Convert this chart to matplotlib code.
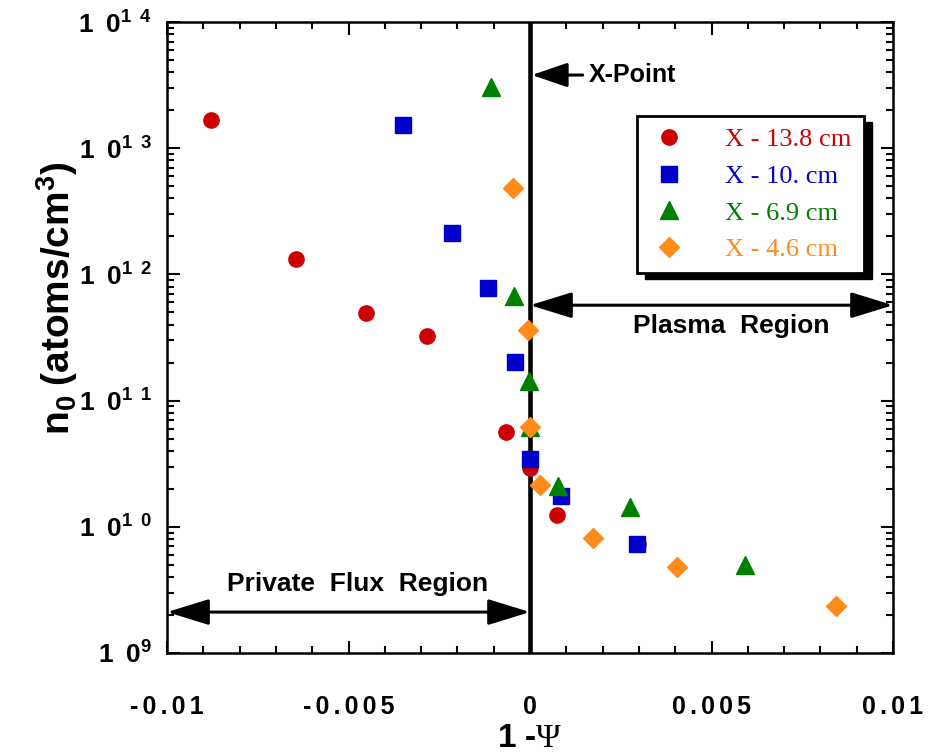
import numpy as np
import matplotlib
matplotlib.use("Agg")
import matplotlib.pyplot as plt
from matplotlib.ticker import FixedLocator, LogLocator, NullFormatter
from matplotlib.patches import Rectangle

plt.rcParams["font.family"] = ["Liberation Sans", "DejaVu Sans"]
plt.rcParams["mathtext.fontset"] = "custom"
plt.rcParams["mathtext.bf"] = "Liberation Sans:bold"
plt.rcParams["mathtext.rm"] = "Liberation Serif"
plt.rcParams["mathtext.it"] = "Liberation Serif:italic"

# data: (1 - Psi, n0)
x_138 = [-0.00879, -0.00645, -0.00452, -0.00284, -0.00066, 0.0, 0.00074, 0.00298]
n_138 = [1.67e13, 1.32e12, 4.9e11, 3.25e11, 5.6e10, 2.9e10, 1.24e10, 7.3e9]

x_100 = [-0.0035, -0.00215, -0.00116, -0.00041, 0.0, 0.00085, 0.00295]
n_100 = [1.53e13, 2.13e12, 7.8e11, 2.02e11, 3.44e10, 1.75e10, 7.3e9]

x_69 = [-0.00107, -0.00044, -0.00002, 0.0, 0.00077, 0.00275, 0.00592]
n_69 = [3.05e13, 6.7e11, 1.43e11, 6.2e10, 2.1e10, 1.44e10, 4.98e9]

x_46 = [-0.00047, -0.00006, 0.0, 0.00028, 0.00174, 0.00405, 0.00843]
n_46 = [4.84e12, 3.63e11, 6.2e10, 2.14e10, 8.15e9, 4.8e9, 2.36e9]

labels = ["X - 13.8 cm", "X - 10. cm", "X - 6.9 cm", "X - 4.6 cm"]
colors = ["#cc0000", "#0000cc", "#008000", "#ff8c1a"]
markers = ["o", "s", "^", "D"]
sizes = [11, 11, 13, 10]

xticks = [-0.01, -0.005, 0, 0.005, 0.01]
xticklabels = ["-0.01", "-0.005", "0", "0.005", "0.01"]
yticks = [1e9, 1e10, 1e11, 1e12, 1e13, 1e14]
yticklabels = [r"$\mathbf{1\ \ 0^{9}}$", r"$\mathbf{1\ \ 0^{1\ \ 0}}$", r"$\mathbf{1\ \ 0^{1\ \ 1}}$",
               r"$\mathbf{1\ \ 0^{1\ \ 2}}$", r"$\mathbf{1\ \ 0^{1\ \ 3}}$", r"$\mathbf{1\ \ 0^{1\ \ 4}}$"]

fig = plt.figure(figsize=(9.3, 7.56), dpi=100)
ax = fig.add_axes([167 / 930, 1 - 653 / 756, (893 - 167) / 930, (653 - 22) / 756])

series = [(x_138, n_138), (x_100, n_100), (x_69, n_69), (x_46, n_46)]
for (xs, ns), lab, c, m, s in zip(series, labels, colors, markers, sizes):
    ax.plot(xs, ns, ls="none", marker=m, ms=s, color=c, mec=c, label=lab, zorder=3)

ax.set_yscale("log")
ax.set_xlim(-0.01, 0.01)
ax.set_ylim(1e9, 1e14)

ax.axvline(0, color="k", lw=3.3, zorder=2)

# slightly spaced-out tick labels like the original
ax.set_xticks(xticks)
ax.set_xticklabels(["\u2006".join(t) for t in xticklabels], fontsize=18, fontweight="bold")
ax.xaxis.set_minor_locator(FixedLocator(np.arange(-0.01, 0.0101, 0.001)))
ax.set_yticks(yticks)
ax.set_yticklabels(yticklabels, fontsize=19)
ax.yaxis.set_minor_locator(LogLocator(base=10, subs=np.arange(2, 10)))
ax.yaxis.set_minor_formatter(NullFormatter())

ax.tick_params(which="both", direction="in", top=True, right=True, width=1.5)
ax.tick_params(which="major", length=9)
ax.tick_params(which="minor", length=5)
ax.tick_params(axis="x", which="major", pad=30)
ax.tick_params(axis="y", which="major", pad=11)
for sp in ax.spines.values():
    sp.set_linewidth(1.8)

ax.set_xlabel(r"1 -$\mathrm{\Psi}$", fontsize=24, fontweight="bold", va="center")
ax.xaxis.set_label_coords(0.5, -0.135)
ax.set_ylabel(r"$\mathbf{n_0\ (atoms/cm^3)}$", fontsize=28, va="center")
ax.yaxis.set_label_coords(-0.152, 0.563)

# annotations
ax.annotate("", xy=(0.00005, 3.8e13), xytext=(0.00145, 3.8e13),
            arrowprops=dict(arrowstyle="-|>,head_length=2.2,head_width=0.75",
                            mutation_scale=10, color="k", lw=2.2,
                            shrinkA=0, shrinkB=0))
ax.text(0.00162, 3.8e13, "X-Point", fontsize=18, fontweight="bold", va="center")

ax.annotate("", xy=(0.0, 5.7e11), xytext=(0.01, 5.7e11),
            arrowprops=dict(arrowstyle="<|-|>,head_length=2.6,head_width=0.8",
                            mutation_scale=10, color="k", lw=2.2,
                            shrinkA=0, shrinkB=0))
ax.text(0.00555, 3.9e11, "Plasma  Region", fontsize=19, fontweight="bold",
        ha="center", va="center")

ax.annotate("", xy=(-0.01, 2.11e9), xytext=(0.0, 2.11e9),
            arrowprops=dict(arrowstyle="<|-|>,head_length=2.6,head_width=0.8",
                            mutation_scale=10, color="k", lw=2.2,
                            shrinkA=0, shrinkB=0))
ax.text(-0.00475, 3.55e9, "Private  Flux  Region", fontsize=19, fontweight="bold",
        ha="center", va="center")

leg = ax.legend(loc="upper left", bbox_to_anchor=(637 / 930, 1 - 116 / 756),
                bbox_transform=fig.transFigure, borderaxespad=0, fancybox=False,
                prop={"family": "Liberation Serif", "size": 19},
                labelcolor="markerfacecolor", handletextpad=1.4,
                labelspacing=0.5, borderpad=0.45, handlelength=1.5,
                framealpha=1, edgecolor="k")
leg.get_frame().set_linewidth(2)
leg.set_zorder(10)

# solid black drop shadow behind the legend box
fig.canvas.draw()
bb = leg.get_window_extent()
shadow = Rectangle((bb.x0 + 8, bb.y0 - 6), bb.width, bb.height, transform=None,
                   facecolor="k", edgecolor="k", zorder=9, clip_on=False)
ax.add_patch(shadow)

fig.savefig("out.png", dpi=100)
